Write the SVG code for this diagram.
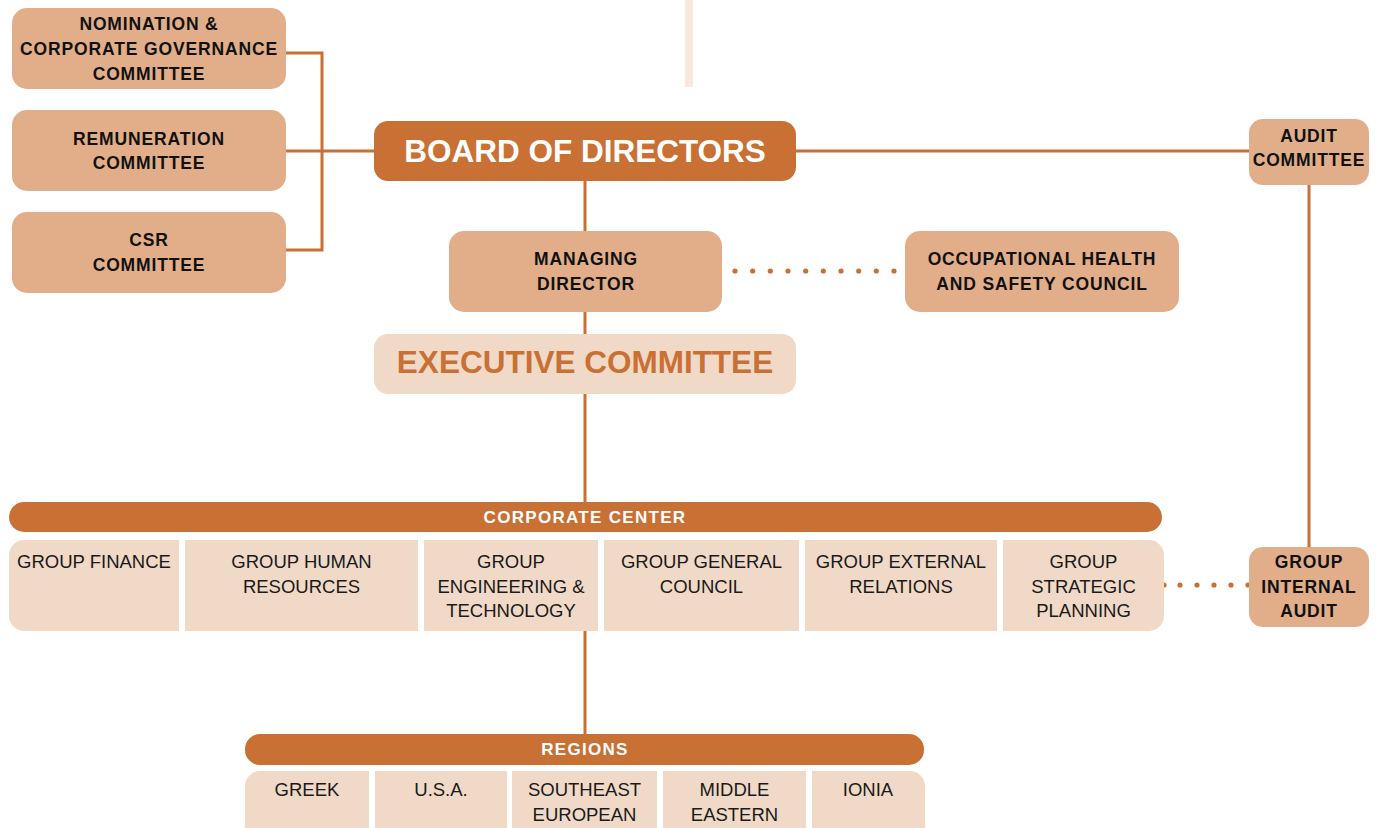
<svg xmlns="http://www.w3.org/2000/svg" width="1382" height="828" viewBox="0 0 1382 828">
<defs>
<style>
.mid{fill:#E2AE8A}
.dark{fill:#C97035}
.light{fill:#F0D9C7}
.gap{fill:#FFFFFF}
.ln{stroke:#C97035;stroke-width:3;fill:none}
.dot{fill:#C97035}
.lbl{font-family:"Liberation Sans",Arial,sans-serif;font-weight:bold;font-size:17.5px;letter-spacing:0.85px;fill:#111111;text-anchor:middle}
.big{font-family:"Liberation Sans",Arial,sans-serif;font-weight:bold;font-size:31.5px;text-anchor:middle}
.bar{font-family:"Liberation Sans",Arial,sans-serif;font-weight:bold;font-size:17px;letter-spacing:1.3px;fill:#FFFFFF;text-anchor:middle}
.cell{font-family:"Liberation Sans",Arial,sans-serif;font-size:18.5px;fill:#1a1a1a;text-anchor:middle}
</style>
</defs>
<rect x="685" y="0" width="8" height="87" fill="#F7E7DD"/>
<g id="connectors">
<polyline class="ln" points="286,53 322,53 322,250 286,250"/>
<line class="ln" x1="286" y1="151" x2="376" y2="151"/>
<line class="ln" x1="796" y1="151" x2="1251" y2="151"/>
<line class="ln" x1="1309" y1="185" x2="1309" y2="548"/>
<line class="ln" x1="585" y1="181" x2="585" y2="231"/>
<line class="ln" x1="585" y1="312" x2="585" y2="334"/>
<line class="ln" x1="585" y1="394" x2="585" y2="502"/>
<line class="ln" x1="585" y1="631" x2="585" y2="734"/>
<g class="dot">
<circle cx="735" cy="271" r="2.6"/><circle cx="752.7" cy="271" r="2.6"/><circle cx="770.3" cy="271" r="2.6"/><circle cx="788" cy="271" r="2.6"/><circle cx="805.7" cy="271" r="2.6"/><circle cx="823.3" cy="271" r="2.6"/><circle cx="841" cy="271" r="2.6"/><circle cx="858.7" cy="271" r="2.6"/><circle cx="876.3" cy="271" r="2.6"/><circle cx="894" cy="271" r="2.6"/>
<circle cx="1164" cy="585" r="2.6"/><circle cx="1180" cy="585" r="2.6"/><circle cx="1197" cy="585" r="2.6"/><circle cx="1214" cy="585" r="2.6"/><circle cx="1231" cy="585" r="2.6"/><circle cx="1248" cy="585" r="2.6"/>
</g>
</g>
<g id="nomination">
<rect class="mid" x="12" y="8" width="274" height="81" rx="15"/>
<text class="lbl" x="149" y="30">NOMINATION &amp;</text>
<text class="lbl" x="149" y="55">CORPORATE GOVERNANCE</text>
<text class="lbl" x="149" y="80">COMMITTEE</text>
</g>
<g id="remuneration">
<rect class="mid" x="12" y="110" width="274" height="81" rx="15"/>
<text class="lbl" x="149" y="145">REMUNERATION</text>
<text class="lbl" x="149" y="169">COMMITTEE</text>
</g>
<g id="csr">
<rect class="mid" x="12" y="212" width="274" height="81" rx="15"/>
<text class="lbl" x="149" y="246">CSR</text>
<text class="lbl" x="149" y="271">COMMITTEE</text>
</g>
<g id="board">
<rect class="dark" x="374" y="121" width="422" height="60" rx="14"/>
<text class="big" x="585" y="162" fill="#FFFFFF">BOARD OF DIRECTORS</text>
</g>
<g id="audit-committee">
<rect class="mid" x="1249" y="119" width="120" height="66" rx="14"/>
<text class="lbl" x="1309" y="142">AUDIT</text>
<text class="lbl" x="1309" y="166">COMMITTEE</text>
</g>
<g id="managing-director">
<rect class="mid" x="449" y="231" width="273" height="81" rx="15"/>
<text class="lbl" x="586" y="265">MANAGING</text>
<text class="lbl" x="586" y="290">DIRECTOR</text>
</g>
<g id="ohs-council">
<rect class="mid" x="905" y="231" width="274" height="81" rx="15"/>
<text class="lbl" x="1042" y="265">OCCUPATIONAL HEALTH</text>
<text class="lbl" x="1042" y="290">AND SAFETY COUNCIL</text>
</g>
<g id="executive-committee">
<rect class="light" x="374" y="334" width="422" height="60" rx="14"/>
<text class="big" x="585" y="373" fill="#C97035">EXECUTIVE COMMITTEE</text>
</g>
<g id="corporate-center">
<rect class="dark" x="9" y="502" width="1153" height="30" rx="15"/>
<text class="bar" x="585" y="523">CORPORATE CENTER</text>
</g>
<g id="corporate-units">
<rect class="light" x="9" y="540" width="1155" height="91" rx="15"/>
<rect class="gap" x="179" y="540" width="6" height="91"/>
<rect class="gap" x="418" y="540" width="6" height="91"/>
<rect class="gap" x="598" y="540" width="6" height="91"/>
<rect class="gap" x="799" y="540" width="6" height="91"/>
<rect class="gap" x="997" y="540" width="6" height="91"/>
<text class="cell" x="94" y="568">GROUP FINANCE</text>
<text class="cell" x="301.5" y="568">GROUP HUMAN</text>
<text class="cell" x="301.5" y="593">RESOURCES</text>
<text class="cell" x="511" y="568">GROUP</text>
<text class="cell" x="511" y="593">ENGINEERING &amp;</text>
<text class="cell" x="511" y="617">TECHNOLOGY</text>
<text class="cell" x="701.5" y="568">GROUP GENERAL</text>
<text class="cell" x="701.5" y="593">COUNCIL</text>
<text class="cell" x="901" y="568">GROUP EXTERNAL</text>
<text class="cell" x="901" y="593">RELATIONS</text>
<text class="cell" x="1083.5" y="568">GROUP</text>
<text class="cell" x="1083.5" y="593">STRATEGIC</text>
<text class="cell" x="1083.5" y="617">PLANNING</text>
</g>
<g id="group-internal-audit">
<rect class="mid" x="1249" y="547" width="120" height="80" rx="14"/>
<text class="lbl" x="1309" y="568">GROUP</text>
<text class="lbl" x="1309" y="593">INTERNAL</text>
<text class="lbl" x="1309" y="617">AUDIT</text>
</g>
<g id="regions">
<rect class="dark" x="245" y="734" width="679" height="31" rx="15"/>
<text class="bar" x="585" y="755">REGIONS</text>
</g>
<g id="region-units">
<rect class="light" x="245" y="771" width="680" height="80" rx="15"/>
<rect class="gap" x="369" y="771" width="6" height="80"/>
<rect class="gap" x="507" y="771" width="5" height="80"/>
<rect class="gap" x="657" y="771" width="6" height="80"/>
<rect class="gap" x="806" y="771" width="6" height="80"/>
<text class="cell" x="307" y="796">GREEK</text>
<text class="cell" x="441" y="796">U.S.A.</text>
<text class="cell" x="584.5" y="796">SOUTHEAST</text>
<text class="cell" x="584.5" y="821">EUROPEAN</text>
<text class="cell" x="734.5" y="796">MIDDLE</text>
<text class="cell" x="734.5" y="821">EASTERN</text>
<text class="cell" x="868" y="796">IONIA</text>
</g>
</svg>
